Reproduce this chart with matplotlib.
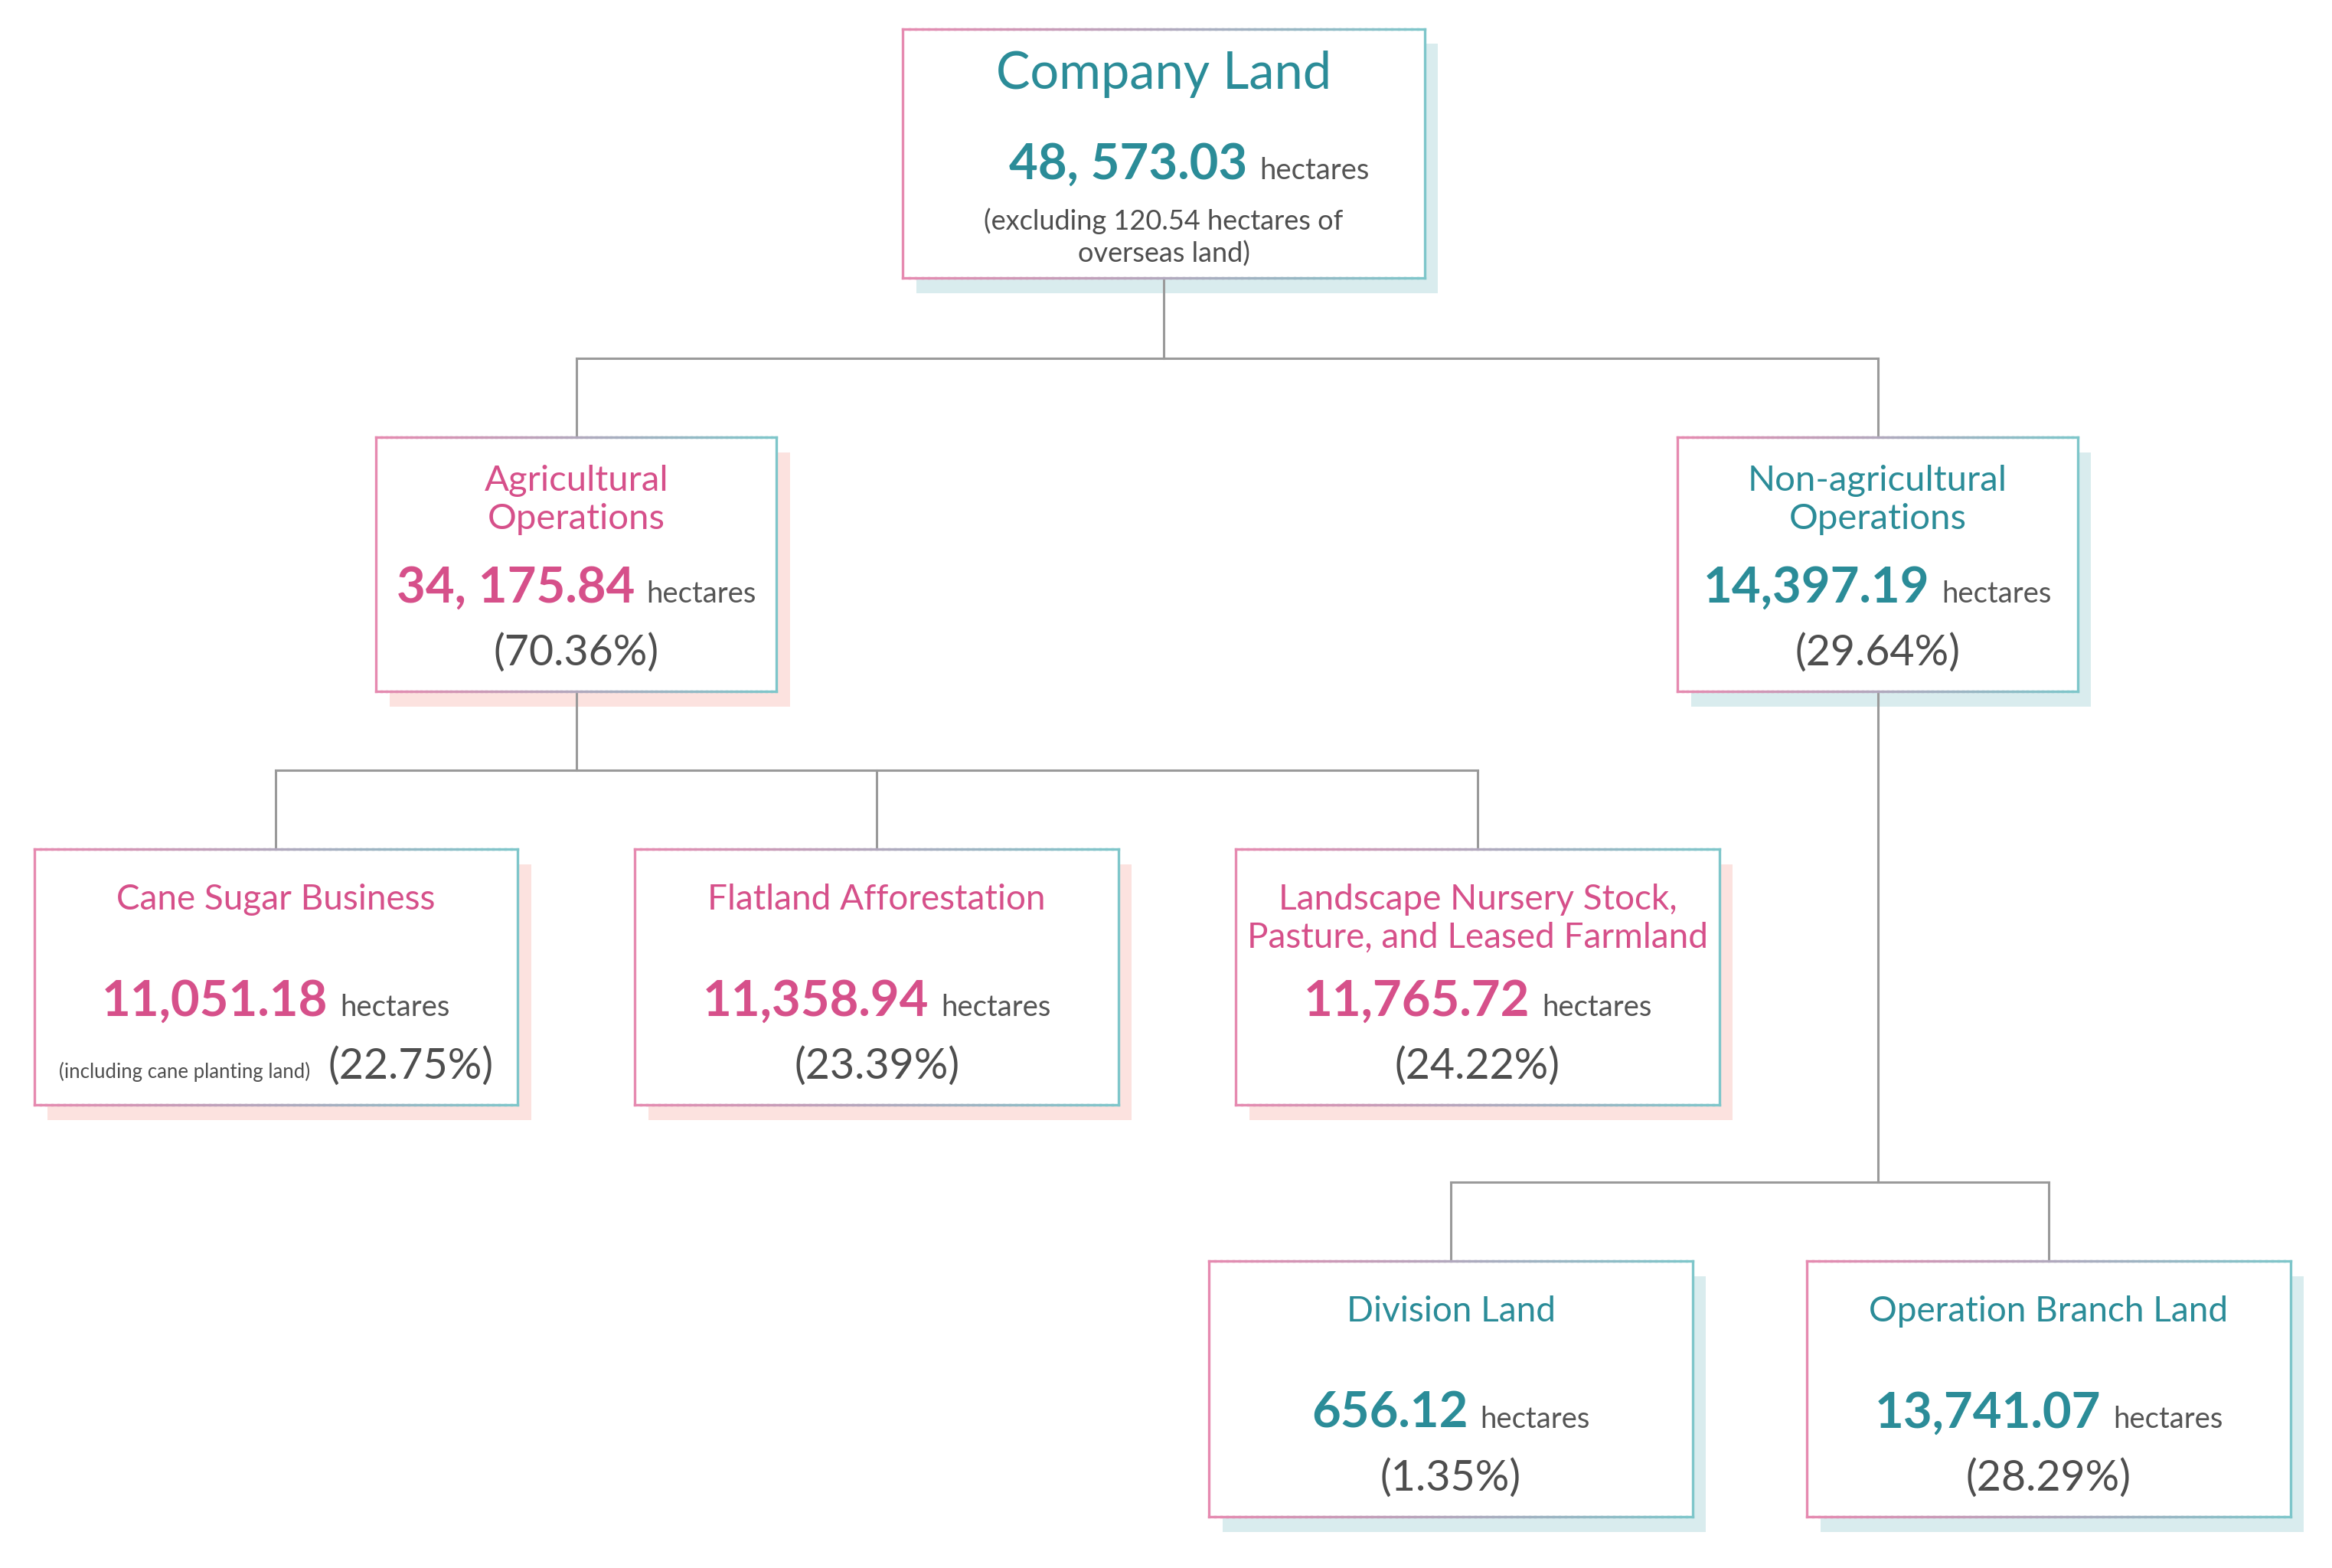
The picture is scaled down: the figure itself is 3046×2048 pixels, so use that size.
import matplotlib
matplotlib.use("Agg")
import matplotlib.pyplot as plt
import numpy as np
from matplotlib.collections import LineCollection
from matplotlib.patches import Rectangle

plt.rcParams['font.family'] = ['Lato', 'DejaVu Sans']

# --- data ---
names = ["Company Land",
         "Agricultural\nOperations",
         "Non-agricultural\nOperations",
         "Cane Sugar Business",
         "Flatland Afforestation",
         "Landscape Nursery Stock,\nPasture, and Leased Farmland",
         "Division Land",
         "Operation Branch Land"]
areas = ["48, 573.03", "34, 175.84", "14,397.19", "11,051.18",
         "11,358.94", "11,765.72", "656.12", "13,741.07"]
shares = [None, "(70.36%)", "(29.64%)", "(22.75%)",
          "(23.39%)", "(24.22%)", "(1.35%)", "(28.29%)"]
notes = ["(excluding 120.54 hectares of\noverseas land)", None, None,
         "(including cane planting land)", None, None, None, None]
parents = [None, 0, 0, 1, 1, 1, 2, 2]
unit = "hectares"

# --- layout (canvas units) ---
boxes = [(607, 19.5, 351, 167.5),
         (253, 294, 269, 171), (1128, 294, 269, 171),
         (23, 571, 325, 172), (427, 571, 325, 172), (831, 571, 325, 172),
         (813, 848, 325, 172), (1215, 848, 325, 172)]
branch = ["teal", "pink", "teal", "pink", "pink", "pink", "teal", "teal"]

TEXT = {"teal": "#2b8c98", "pink": "#d6508a"}
SHADOW = {"teal": "#d9ecee", "pink": "#fce2df"}
EDGE_L = np.array(matplotlib.colors.to_rgb("#e68ab0"))
EDGE_R = np.array(matplotlib.colors.to_rgb("#7ec6ca"))
GRAY = "#4e4e4e"
LINE = "#9a9a9a"

W, H = 1568, 1568 * 2048 / 3046
fig = plt.figure(figsize=(30.46, 20.48), dpi=100)
ax = fig.add_axes([0, 0, 1, 1])
ax.set_xlim(0, W)
ax.set_ylim(H, 0)
ax.axis('off')
renderer = fig.canvas.get_renderer()
px = W / 3046.0


def grey(size, color=GRAY):
    return dict(fontsize=size, color=color)


def centred_line(cx, y, parts, gap):
    txts = []
    for s, kw in parts:
        txts.append(ax.text(0, y, s, ha='left', va='baseline', zorder=5, **kw))
    widths = [t.get_window_extent(renderer).width * px for t in txts]
    total = sum(widths) + gap * (len(txts) - 1)
    x = cx - total / 2
    for t, w in zip(txts, widths):
        t.set_x(x)
        x += w + gap


# connectors
for p in range(len(boxes)):
    kids = [i for i, q in enumerate(parents) if q == p]
    if not kids:
        continue
    px0, py0, pw, ph = boxes[p]
    pcx = px0 + pw / 2
    bus = boxes[kids[0]][1] - 53
    kcx = [boxes[k][0] + boxes[k][2] / 2 for k in kids]
    ax.plot([pcx, pcx], [py0 + ph, bus], color=LINE, lw=2.2, zorder=2)
    ax.plot([min(kcx + [pcx]), max(kcx + [pcx])], [bus, bus], color=LINE, lw=2.2,
            zorder=2, solid_capstyle='projecting')
    for k, c in zip(kids, kcx):
        ax.plot([c, c], [bus, boxes[k][1]], color=LINE, lw=2.2, zorder=2)

# boxes
for i, (x0, y0, w, h) in enumerate(boxes):
    b = branch[i]
    ax.add_patch(Rectangle((x0 + 9, y0 + 10), w, h, facecolor=SHADOW[b],
                           edgecolor='none', zorder=1))
    ax.add_patch(Rectangle((x0, y0), w, h, facecolor='white',
                           edgecolor='none', zorder=3))
    n = 80
    xs = np.linspace(x0, x0 + w, n + 1)
    segs, cols = [], []
    for j in range(n):
        f = (j + 0.5) / n
        c = EDGE_L * (1 - f) + EDGE_R * f
        segs.append([(xs[j], y0), (xs[j + 1], y0)])
        segs.append([(xs[j], y0 + h), (xs[j + 1], y0 + h)])
        cols += [c, c]
    segs.append([(x0, y0), (x0, y0 + h)])
    cols.append(EDGE_L)
    segs.append([(x0 + w, y0), (x0 + w, y0 + h)])
    cols.append(EDGE_R)
    ax.add_collection(LineCollection(segs, colors=cols, linewidths=2.4,
                                     capstyle='projecting', zorder=4))

    cx = x0 + w / 2
    col = TEXT[b]
    hect = (unit, grey(27.5, "#555555"))
    if parents[i] is None:
        ax.text(cx, y0 + 40, names[i], ha='center', va='baseline',
                fontsize=48, color=col, zorder=5)
        centred_line(cx + 17, y0 + 101,
                     [(areas[i], dict(fontsize=47, fontweight='bold', color=col)), hect], 8)
        for k, s in enumerate(notes[i].split("\n")):
            ax.text(cx, y0 + 135 + 22 * k, s, ha='center', va='baseline',
                    zorder=5, **grey(26))
    else:
        level2 = parents[i] == 0
        ty = 36 if level2 else 40.5
        for k, s in enumerate(names[i].split("\n")):
            ax.text(cx, y0 + ty + 25.5 * k, s, ha='center', va='baseline',
                    fontsize=34 if level2 else 33, color=col, zorder=5)
        centred_line(cx, y0 + (111 if level2 else 112),
                     [(areas[i], dict(fontsize=47, fontweight='bold', color=col)), hect], 8)
        parts = []
        if notes[i]:
            parts.append((notes[i], grey(18.5)))
        parts.append((shares[i], grey(40)))
        centred_line(cx, y0 + (153 if level2 else 154), parts, 12)

fig.savefig("out.png", dpi=100, facecolor='white')
